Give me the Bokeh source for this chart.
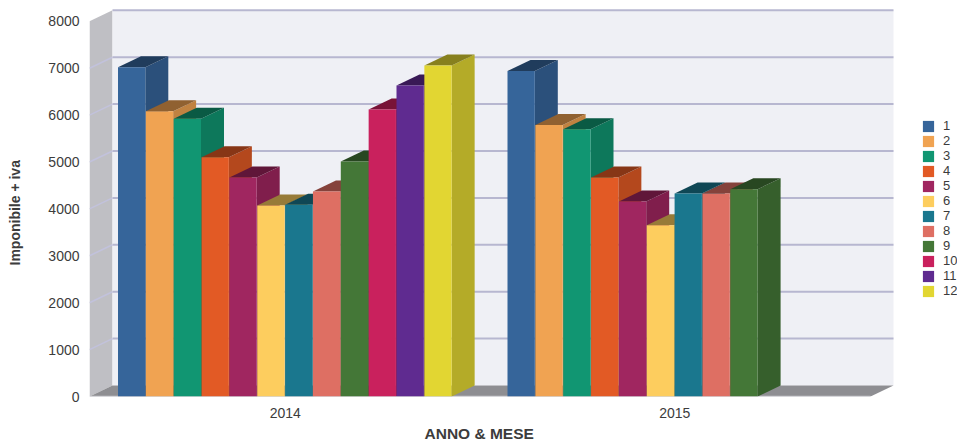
from bokeh.plotting import figure
from bokeh.models import Range1d, FixedTicker, Title, Legend, LegendItem, ColumnDataSource
from bokeh.embed import file_html
from bokeh.resources import INLINE

years = ["2014", "2015"]
months = ["1", "2", "3", "4", "5", "6", "7", "8", "9", "10", "11", "12"]
values_2014 = [7020, 6080, 5920, 5100, 4670, 4070, 4090, 4370, 5010, 6120, 6630, 7060]
values_2015 = [6940, 5790, 5700, 4670, 4160, 3650, 4330, 4330, 4420]
colors = ["#36659a", "#f0a352", "#119672", "#e25a25", "#a02660", "#fdcd5e",
          "#1a778e", "#de6f63", "#447737", "#c9215d", "#5f2b90", "#e2d632"]
y_ticks = [0, 1000, 2000, 3000, 4000, 5000, 6000, 7000, 8000]

FONT = "Liberation Sans"
TXT = "#3c3c3c"
PX_X = 389.5          # pixels per category
PX_Y = 46.9 / 1000    # pixels per value unit
DX = 23 / PX_X        # 3D depth
DY = 11 / PX_Y
SLOT = 27.85 / PX_X
FACE = 27.3 / PX_X
X0, X1 = 0, 781 / PX_X


def shade(c, f):
    r, g, b = int(c[1:3], 16), int(c[3:5], 16), int(c[5:7], 16)
    return "#%02x%02x%02x" % (int(r * f), int(g * f), int(b * f))


p = figure(width=957, height=443, output_backend="svg", toolbar_location=None,
           x_range=Range1d(X0, 868 / PX_X), y_range=Range1d(0, 388 / PX_Y),
           min_border_left=89, min_border_right=0, min_border_top=8, min_border_bottom=47,
           background_fill_color="white", border_fill_color="white", outline_line_color=None)
p.grid.visible = False

# walls and floor
top_v = y_ticks[-1]
p.patch([X0, X0, X0 + DX, X0 + DX], [0, top_v, top_v + DY, DY], fill_color="#bfbfc4", line_color=None)
p.patch([X0 + DX, X0 + DX, X1 + DX, X1 + DX], [DY, top_v + DY, top_v + DY, DY], fill_color="#eff0f5", line_color=None)
p.patch([X0, X1, X1 + DX, X0 + DX], [0, 0, DY, DY], fill_color="#8e8e92", line_color=None)
grid = y_ticks[1:]
p.segment([X0 + DX] * len(grid), [v + DY for v in grid], [X1 + DX] * len(grid), [v + DY for v in grid],
          line_color="#b7b7d0", line_width=2)
p.segment([X0] * (len(grid) - 1), grid[:-1], [X0 + DX] * (len(grid) - 1), [v + DY for v in grid[:-1]],
          line_color="#c2c2dc", line_width=1.5)
p.segment([X0], [0], [X1], [0], line_color="#c9c9cf", line_width=1.5)

# bars
items = []
for m, (name, col) in enumerate(zip(months, colors)):
    lefts, rights, tops = [], [], []
    for yi, vals in enumerate([values_2014, values_2015]):
        if m < len(vals):
            l = yi + 0.5 + (m - 6) * SLOT + 0.85 / PX_X
            lefts.append(l)
            rights.append(l + FACE)
            tops.append(vals[m])
    xs_top = [[l, r, r + DX, l + DX] for l, r in zip(lefts, rights)]
    ys_top = [[t, t, t + DY, t + DY] for t in tops]
    xs_side = [[r, r + DX, r + DX, r] for r in rights]
    ys_side = [[0, DY, t + DY, t] for t in tops]
    p.patches(xs_side, ys_side, fill_color=shade(col, 0.8), line_color=None)
    p.patches(xs_top, ys_top, fill_color=shade(col, 0.6), line_color=None)
    src = ColumnDataSource(dict(left=lefts, right=rights, top=tops, bottom=[0] * len(tops)))
    r = p.quad(left="left", right="right", top="top", bottom="bottom", source=src,
               fill_color=col, line_color=None)
    items.append(LegendItem(label=name, renderers=[r]))

legend = Legend(items=items, location=(832, 98), padding=0, margin=0, spacing=0,
                glyph_width=14, glyph_height=14, label_height=14, label_standoff=8,
                label_text_font=FONT, label_text_font_size="13px", label_text_color=TXT,
                background_fill_alpha=0, border_line_color=None)
p.add_layout(legend, "center")

# axes
p.xaxis.ticker = FixedTicker(ticks=[0.5 + 1 / PX_X, 1.5 + 1 / PX_X])
p.xaxis.major_label_overrides = {0.5 + 1 / PX_X: years[0], 1.5 + 1 / PX_X: years[1]}
p.yaxis.ticker = FixedTicker(ticks=y_ticks)
for ax in (p.xaxis[0], p.yaxis[0]):
    ax.axis_line_color = None
    ax.major_tick_line_color = None
    ax.minor_tick_line_color = None
    ax.major_label_text_font = FONT
    ax.major_label_text_color = TXT
    ax.major_tick_in = 0
    ax.major_tick_out = 0
p.xaxis.major_label_text_font_size = "14px"
p.yaxis.major_label_text_font_size = "14px"
p.xaxis.major_label_standoff = 11
p.yaxis.major_label_standoff = 10

p.add_layout(Title(text="ANNO & MESE", align="left", offset=335, standoff=4, text_font=FONT,
                   text_font_size="15.5px", text_font_style="bold", text_color=TXT), "below")
p.yaxis.axis_label = " "
p.yaxis.axis_label_standoff = 5
p.add_layout(Title(text="Imponibile + iva", align="left", offset=131, standoff=0, text_font=FONT,
                   text_font_size="14px", text_font_style="bold", text_color=TXT), "left")

open("out.html", "w").write(file_html(p, INLINE))
